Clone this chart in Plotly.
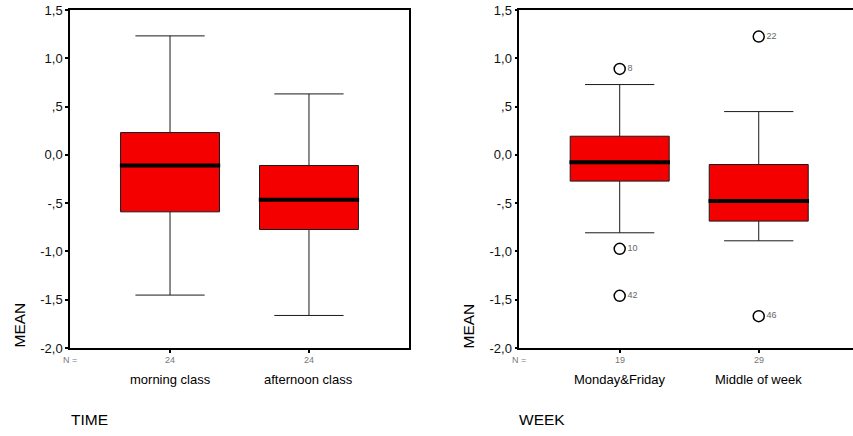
import plotly.graph_objects as go

# ---- data -------------------------------------------------------------
time_groups = ["morning class", "afternoon class"]
time_n = [24, 24]
time_upper = [1.232, 0.631]
time_q3 = [0.231, -0.110]
time_median = [-0.110, -0.466]
time_q1 = [-0.590, -0.773]
time_lower = [-1.452, -1.663]

week_groups = ["Monday&Friday", "Middle of week"]
week_n = [19, 29]
week_upper = [0.728, 0.448]
week_q3 = [0.193, -0.100]
week_median = [-0.076, -0.479]
week_q1 = [-0.272, -0.686]
week_lower = [-0.807, -0.890]

# outliers: group index, value, case number
week_out_group = [0, 0, 0, 1, 1]
week_out_value = [0.890, -0.973, -1.460, 1.225, -1.670]
week_out_case = ["8", "10", "42", "22", "46"]

ytick_vals = [1.5, 1.0, 0.5, 0.0, -0.5, -1.0, -1.5, -2.0]
ytick_text = ["1,5", "1,0", ",5", "0,0", "-,5", "-1,0", "-1,5", "-2,0"]

# ---- style ------------------------------------------------------------
W, H = 853, 436
FONT = "Liberation Sans, Arial, sans-serif"
RED = "#F50000"
BOX_W = 0.712

fig = go.Figure()


def add_panel(xa, ya, n_groups, q1, med, q3, lo, hi):
    for i in range(n_groups):
        fig.add_trace(go.Box(
            x=[i], q1=[q1[i]], median=[med[i]], q3=[q3[i]],
            lowerfence=[lo[i]], upperfence=[hi[i]],
            width=BOX_W, whiskerwidth=0.7, boxpoints=False,
            fillcolor=RED, line=dict(color="#1a1a1a", width=1),
            xaxis=xa, yaxis=ya, showlegend=False, hoverinfo="skip",
        ))
        # heavy median bar
        fig.add_trace(go.Scatter(
            x=[i - BOX_W / 2 - 0.005, i + BOX_W / 2 + 0.005], y=[med[i], med[i]],
            mode="lines", line=dict(color="black", width=4),
            xaxis=xa, yaxis=ya, showlegend=False, hoverinfo="skip",
        ))


add_panel("x", "y", len(time_groups), time_q1, time_median, time_q3, time_lower, time_upper)
add_panel("x2", "y2", len(week_groups), week_q1, week_median, week_q3, week_lower, week_upper)

fig.add_trace(go.Scatter(
    x=week_out_group, y=week_out_value, text=week_out_case,
    mode="markers+text", textposition="middle right",
    textfont=dict(family=FONT, size=9, color="#666666"),
    marker=dict(symbol="circle-open", size=11, color="black", line=dict(width=1.5)),
    xaxis="x2", yaxis="y2", showlegend=False, hoverinfo="skip", cliponaxis=False,
))

# ---- axes -------------------------------------------------------------
left_dom = [70 / W, 409 / W]
right_dom = [519.3 / W, 1.0]
y_dom = [(H - 348) / H, (H - 10) / H]

yaxis_common = dict(
    range=[-2.0, 1.5], tickvals=ytick_vals, ticktext=ytick_text,
    showgrid=False, zeroline=False, showline=True, linecolor="black", linewidth=1.5,
    ticks="outside", ticklen=3, tickwidth=2, tickcolor="black", automargin=False,
    tickfont=dict(family=FONT, size=13, color="#111111"), domain=y_dom,
)
xaxis_common = dict(
    tickvals=[0, 1], showticklabels=False, automargin=False,
    showgrid=False, zeroline=False, showline=True, linecolor="black", linewidth=1.5,
    ticks="outside", ticklen=3, tickwidth=2, tickcolor="black", mirror=True,
)

fig.update_layout(
    width=W, height=H, autosize=False,
    margin=dict(l=0, r=0, t=0, b=0, pad=0, autoexpand=False),
    paper_bgcolor="white", plot_bgcolor="white",
    xaxis=dict(xaxis_common, domain=left_dom, range=[-0.72, 1.72], anchor="y"),
    yaxis=dict(yaxis_common, anchor="x", mirror=True),
    xaxis2=dict(xaxis_common, domain=right_dom, range=[-0.722, 1.678], anchor="y2"),
    yaxis2=dict(yaxis_common, anchor="x2", mirror=False),
)

# ---- text: N counts, group names, axis titles --------------------------
ann = []


def py(px):
    return (H - px) / H


def label(x, y, text, xref="paper", size=12, color="black", **kw):
    ann.append(dict(x=x, y=y, xref=xref, yref="paper", text=text, showarrow=False,
                    xanchor=kw.pop("xanchor", "center"), yanchor="middle",
                    font=dict(family=FONT, size=size, color=color), **kw))


def panel_text(xref, groups, counts, n_x, mean_x, title, title_x):
    label(n_x, py(360), "N =", size=9, color="#777777")
    for i, (g, n) in enumerate(zip(groups, counts)):
        label(i, py(360), str(n), xref=xref, size=9, color="#777777")
        label(i, py(379), g, xref=xref, size=13)
    label(mean_x / W, py(325.5), "MEAN", size=15.5, textangle=-90)
    label(title_x / W, py(419), title, size=15.5, xanchor="left")


panel_text("x", time_groups, time_n, 69.5 / W, 19, "TIME", 69)
panel_text("x2", week_groups, week_n, 519 / W, 468, "WEEK", 517)
fig.update_layout(annotations=ann)

fig.write_html("out.html")
